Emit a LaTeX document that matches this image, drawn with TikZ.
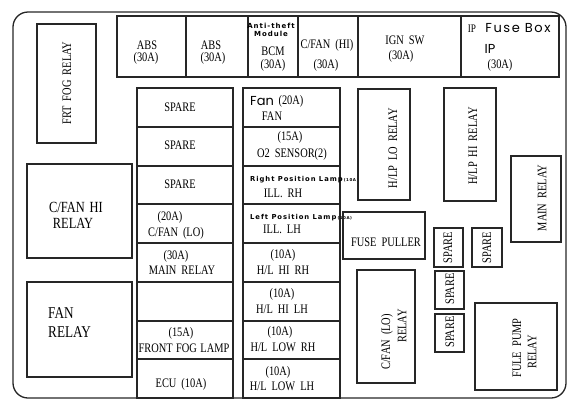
\documentclass[tikz,border=0pt]{standalone}
\usepackage{fontspec}
\setmainfont{Liberation Serif}[FakeStretch=0.8]
\newfontfamily\pop{Poppins}[LetterSpace=12]
\newfontfamily\popn{Poppins}
\newfontfamily\tsans{DejaVu Sans}[LetterSpace=14]
\newcommand\wideSp{\spaceskip 5pt\relax}
\newcommand\midSp{\spaceskip 3.5pt\relax}
\newcommand\mybox[5]{\node[bx, minimum width={(#4)-(#2)}, minimum height={(#5)-(#3)}] (#1) at ({((#2)+(#4))/2},{((#3)+(#5))/2}) {};}
\tikzset{
  bx/.style={draw=black!85, line width=1.1pt, inner sep=0pt, outer sep=0pt, rectangle},
  tx/.style={inner sep=0pt, font=\fontsize{13}{14}\selectfont\wideSp},
  big/.style={inner sep=0pt, font=\fontsize{15.5}{17}\selectfont\wideSp},
  tiny/.style={inner sep=0pt, font=\tsans\bfseries\fontsize{6.8}{7}\selectfont},
  rot/.style={tx, rotate=90}
}
\begin{document}
\begin{tikzpicture}[x=1pt,y=-1pt]
\useasboundingbox (0,0) rectangle (581,408);
% frame
\node[bx, line width=1.3pt, rounded corners=15pt, minimum width=553, minimum height=386] (frame) at (289.5,205) {};
% top row
\mybox{abs1}{117}{16}{186}{77}
\mybox{abs2}{186}{16}{248}{77}
\mybox{bcm}{248}{16}{298}{77}
\mybox{cfanhi}{298}{16}{358}{77}
\mybox{ign}{358}{16}{461}{77}
\mybox{ipbox}{461}{16}{559}{77}
\node[tx] (abs1a) at (147,45.5) {ABS};
\node[tx] (abs1b) at (146,58.5) {(30A)};
\node[tx] (abs2a) at (211,45.5) {ABS};
\node[tx] (abs2b) at (213,58.5) {(30A)};
\node[inner sep=0pt, font=\tsans\bfseries\fontsize{7}{8}\selectfont] (bcma) at (271,26) {Anti-theft};
\node[inner sep=0pt, font=\tsans\bfseries\fontsize{7}{8}\selectfont] (bcmb) at (271,33.5) {Module};
\node[tx] (bcmc) at (273,51) {BCM};
\node[tx] (bcmd) at (273,65) {(30A)};
\node[tx] (cfhia) at (327,45.5) {C/FAN (HI)};
\node[tx] (cfhib) at (326,65) {(30A)};
\node[tx] (igna) at (405,40) {IGN SW};
\node[tx] (ignb) at (401,56) {(30A)};
\node[inner sep=0pt, font=\fontsize{11.5}{12}\selectfont] (ipa) at (472,28.5) {IP};
\node[inner sep=0pt, font=\pop\fontsize{13}{14}\selectfont] (ipb) at (518,28.5) {Fuse Box};
\node[inner sep=0pt, font=\popn\fontsize{13}{14}\selectfont] (ipc) at (490,49) {IP};
\node[tx] (ipd) at (500,65) {(30A)};
% left relays
\mybox{frtfog}{37}{24}{96}{143}
\node[rot] (frtfogt) at (67,83) {FRT FOG RELAY};
\mybox{cfanhirel}{27}{164}{132}{258}
\node[big] (cfhra) at (76,207) {C/FAN HI};
\node[big] (cfhrb) at (73,223) {RELAY};
\mybox{fanrel}{27}{282}{132}{377}
\node[inner sep=0pt, anchor=west, font=\fontsize{16.5}{18}\selectfont] (fanra) at (48,313) {FAN};
\node[inner sep=0pt, anchor=west, font=\fontsize{16.5}{18}\selectfont] (fanrb) at (48,332) {RELAY};
% column 1
\mybox{ca1}{137}{88}{233}{127}
\mybox{ca2}{137}{127}{233}{166}
\mybox{ca3}{137}{166}{233}{204}
\mybox{ca4}{137}{204}{233}{243}
\mybox{ca5}{137}{243}{233}{282}
\mybox{ca6}{137}{282}{233}{321}
\mybox{ca7}{137}{321}{233}{359}
\mybox{ca8}{137}{359}{233}{398}
\node[tx] (ca1t) at (180,107) {SPARE};
\node[tx] (ca2t) at (180,145.5) {SPARE};
\node[tx] (ca3t) at (180,184) {SPARE};
\node[tx] (ca4a) at (170,217) {(20A)};
\node[tx] (ca4b) at (176,233) {C/FAN (LO)};
\node[tx] (ca5a) at (176,256) {(30A)};
\node[tx] (ca5b) at (182,270) {MAIN RELAY};
\node[tx] (ca7a) at (181,333) {(15A)};
\node[tx, font=\fontsize{13}{14}\selectfont\midSp] (ca7b) at (184,348) {FRONT FOG LAMP};
\node[tx] (ca8t) at (181,384) {ECU (10A)};
% column 2
\mybox{cb1}{243}{88}{340}{127}
\mybox{cb2}{243}{127}{340}{166}
\mybox{cb3}{243}{166}{340}{204}
\mybox{cb4}{243}{204}{340}{243}
\mybox{cb5}{243}{243}{340}{282}
\mybox{cb6}{243}{282}{340}{321}
\mybox{cb7}{243}{321}{340}{359}
\mybox{cb8}{243}{359}{340}{398}
\node[inner sep=0pt, anchor=west, font=\popn\fontsize{13}{14}\selectfont] (cb1a) at (250,101) {Fan};
\node[tx] (cb1b) at (291,101) {(20A)};
\node[tx] (cb1c) at (272,116) {FAN};
\node[tx] (cb2a) at (290,137.5) {(15A)};
\node[tx] (cb2b) at (292,154) {O2 SENSOR(2)};
\node[tiny, anchor=west] (cb3a) at (250,179.5) {Right Position Lamp\,{\fontsize{4}{4}\selectfont(10A)}};
\node[tx] (cb3b) at (283,193) {ILL. RH};
\node[tiny, anchor=west] (cb4a) at (250,217.5) {Left Position Lamp\,{\fontsize{4}{4}\selectfont(10A)}};
\node[tx] (cb4b) at (282,229.5) {ILL. LH};
\node[tx] (cb5a) at (283,255.5) {(10A)};
\node[tx] (cb5b) at (283,270) {H/L HI RH};
\node[tx] (cb6a) at (282,294) {(10A)};
\node[tx] (cb6b) at (282,309) {H/L HI LH};
\node[tx] (cb7a) at (280,332.5) {(10A)};
\node[tx] (cb7b) at (283,347.5) {H/L LOW RH};
\node[tx] (cb8a) at (278,372) {(10A)};
\node[tx] (cb8b) at (282,386) {H/L LOW LH};
% right side
\mybox{hlplo}{358}{89}{410}{200}
\node[rot] (hlplot) at (393,148) {H/LP LO RELAY};
\mybox{hlphi}{444}{88}{496}{201}
\node[rot] (hlphit) at (473,146) {H/LP HI RELAY};
\mybox{mainrel}{511}{156}{561}{242}
\node[rot] (mainrelt) at (542,198) {MAIN RELAY};
\mybox{puller}{343}{212}{425}{259}
\node[tx] (pullert) at (386,242) {FUSE PULLER};
\mybox{sp1}{434}{228}{463}{267}
\node[rot] (sp1t) at (448,247.5) {SPARE};
\mybox{sp2}{472}{228}{502}{267}
\node[rot] (sp2t) at (487,247.5) {SPARE};
\mybox{sp3}{435}{271}{464}{309}
\node[rot] (sp3t) at (450,289) {SPARE};
\mybox{sp4}{435}{314}{464}{352}
\node[rot] (sp4t) at (450,332) {SPARE};
\mybox{cfanlo}{357}{270}{415}{383}
\node[rot] (cfloa) at (387,342) {C/FAN (LO)};
\node[rot] (cflob) at (402,326) {RELAY};
\mybox{fule}{475}{303}{557}{390}
\node[rot] (fulea) at (517,348) {FULE PUMP};
\node[rot] (fuleb) at (532,352) {RELAY};
\end{tikzpicture}
\end{document}
